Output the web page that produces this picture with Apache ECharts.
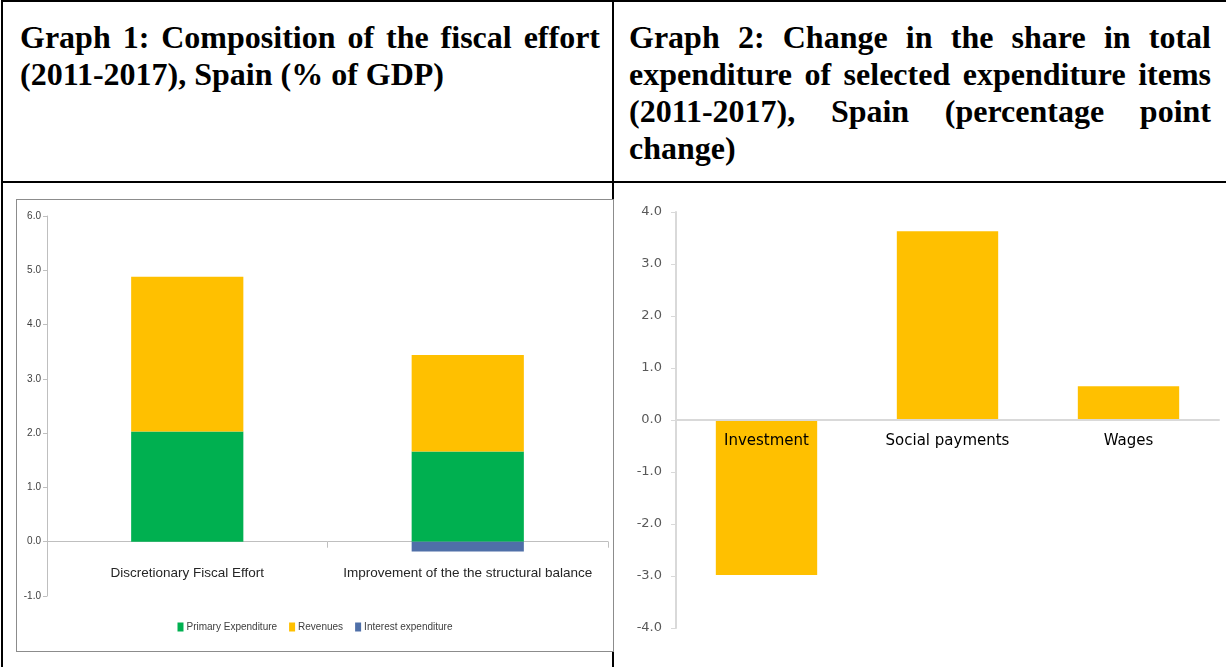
<!DOCTYPE html>
<html>
<head>
<meta charset="utf-8">
<script src="https://cdn.jsdelivr.net/npm/echarts@6/dist/echarts.min.js"></script>
<style>
  html, body { margin: 0; padding: 0; width: 1226px; height: 667px; background: #fff; overflow: hidden; }
  .line { position: absolute; background: #000; }
  .title { position: absolute; font-family: "Liberation Serif", "Times New Roman", serif; font-weight: bold; font-size: 32px; line-height: 37px; color: #000; }
  .title div { white-space: nowrap; text-align: justify; text-align-last: justify; }
  .title div.last { text-align-last: left; }
  #c1wrap { position: absolute; left: 16px; top: 199px; width: 596px; height: 451px; border: 1px solid #8c8c8c; background: #fff; }
  #c1 { width: 596px; height: 451px; }
  #c2 { position: absolute; left: 615px; top: 184px; width: 611px; height: 483px; }
</style>
</head>
<body>
<div class="line" style="left:1px;top:0px;width:1225px;height:2px;"></div>
<div class="line" style="left:1px;top:0px;width:2px;height:667px;"></div>
<div class="line" style="left:612px;top:0px;width:2px;height:667px;"></div>
<div class="line" style="left:1px;top:181px;width:1225px;height:2px;"></div>

<div class="title" style="left:20px;top:19px;width:580px;">
  <div>Graph 1: Composition of the fiscal effort</div>
  <div class="last">(2011-2017), Spain (% of GDP)</div>
</div>
<div class="title" style="left:629px;top:19px;width:582px;">
  <div>Graph 2: Change in the share in total</div>
  <div>expenditure of selected expenditure items</div>
  <div>(2011-2017), Spain (percentage point</div>
  <div class="last">change)</div>
</div>

<div id="c1wrap"><div id="c1"></div></div>
<div id="c2"></div>

<script>
// Graph 1 data
const g1Categories = ['Discretionary Fiscal Effort', 'Improvement of the the structural balance'];
const g1Primary = [2.03, 1.66];
const g1Revenues = [2.85, 1.78];
const g1Interest = [0, -0.18];
const g1SeriesNames = ['Primary Expenditure', 'Revenues', 'Interest expenditure'];

// Graph 2 data
const g2Categories = ['Investment', 'Social payments', 'Wages'];
const g2Values = [-2.98, 3.63, 0.65];

const narrow = '"Liberation Sans Narrow", "Arial Narrow", "Liberation Sans", sans-serif';
const verd = '"DejaVu Sans", Verdana, sans-serif';

const c1H = 451, c1Top = 16, c1Bottom = 55, c1Min = -1, c1Max = 6;
const c1Zero = (c1H - c1Top - c1Bottom) * (0 - c1Min) / (c1Max - c1Min);

const c1 = echarts.init(document.getElementById('c1'));
c1.setOption({
  animation: false,
  grid: { left: 30, right: 5, top: c1Top, bottom: c1Bottom },
  legend: {
    bottom: 14, left: 'center',
    itemWidth: 6, itemHeight: 9, itemGap: 12,
    icon: 'rect',
    textStyle: { fontFamily: narrow, fontSize: 10, color: '#404040', padding: [0, 0, 0, -2] },
    data: g1SeriesNames
  },
  xAxis: {
    type: 'category', data: g1Categories,
    offset: -c1Zero,
    axisLine: { onZero: false, lineStyle: { color: '#bfbfbf', width: 1 } },
    axisTick: { show: true, length: 6, lineStyle: { color: '#bfbfbf' } },
    axisLabel: { interval: 0, margin: 25, fontFamily: narrow, fontSize: 13.5, color: '#262626' }
  },
  yAxis: {
    type: 'value', min: c1Min, max: c1Max, interval: 1,
    splitLine: { show: false },
    axisLine: { show: true, lineStyle: { color: '#bfbfbf' } },
    axisTick: { show: true, length: 4, lineStyle: { color: '#bfbfbf' } },
    axisLabel: { margin: 6, fontFamily: narrow, fontSize: 10, color: '#404040', formatter: v => v.toFixed(1) }
  },
  series: [
    { name: g1SeriesNames[0], type: 'bar', stack: 'pos', data: g1Primary, barWidth: '40%', itemStyle: { color: '#00b050' } },
    { name: g1SeriesNames[1], type: 'bar', stack: 'pos', data: g1Revenues, itemStyle: { color: '#ffc000' } },
    { name: g1SeriesNames[2], type: 'bar', stack: 'pos', data: g1Interest, itemStyle: { color: '#4f6fa8' } }
  ]
});

const c2H = 483, c2Top = 28, c2Bottom = 39, c2Min = -4, c2Max = 4;
const c2Zero = (c2H - c2Top - c2Bottom) * (0 - c2Min) / (c2Max - c2Min);

const c2 = echarts.init(document.getElementById('c2'));
c2.setOption({
  animation: false,
  grid: { left: 61, right: 7, top: c2Top, bottom: c2Bottom },
  xAxis: {
    type: 'category', data: g2Categories,
    offset: -c2Zero,
    axisLine: { onZero: false, lineStyle: { color: '#d9d9d9', width: 2 } },
    axisTick: { show: false },
    axisLabel: { interval: 0, margin: 14, fontFamily: verd, fontSize: 15, color: '#000' },
    z: 10
  },
  yAxis: {
    type: 'value', min: c2Min, max: c2Max, interval: 1,
    splitLine: { show: false },
    axisLine: { show: true, lineStyle: { color: '#d9d9d9', width: 2 } },
    axisTick: { show: true, length: 5, lineStyle: { color: '#d9d9d9' } },
    axisLabel: { margin: 14, fontFamily: verd, fontSize: 13, color: '#595959', formatter: v => v.toFixed(1) }
  },
  series: [
    { type: 'bar', data: g2Values, barWidth: '56%', itemStyle: { color: '#ffc000' } }
  ]
});
</script>
</body>
</html>
